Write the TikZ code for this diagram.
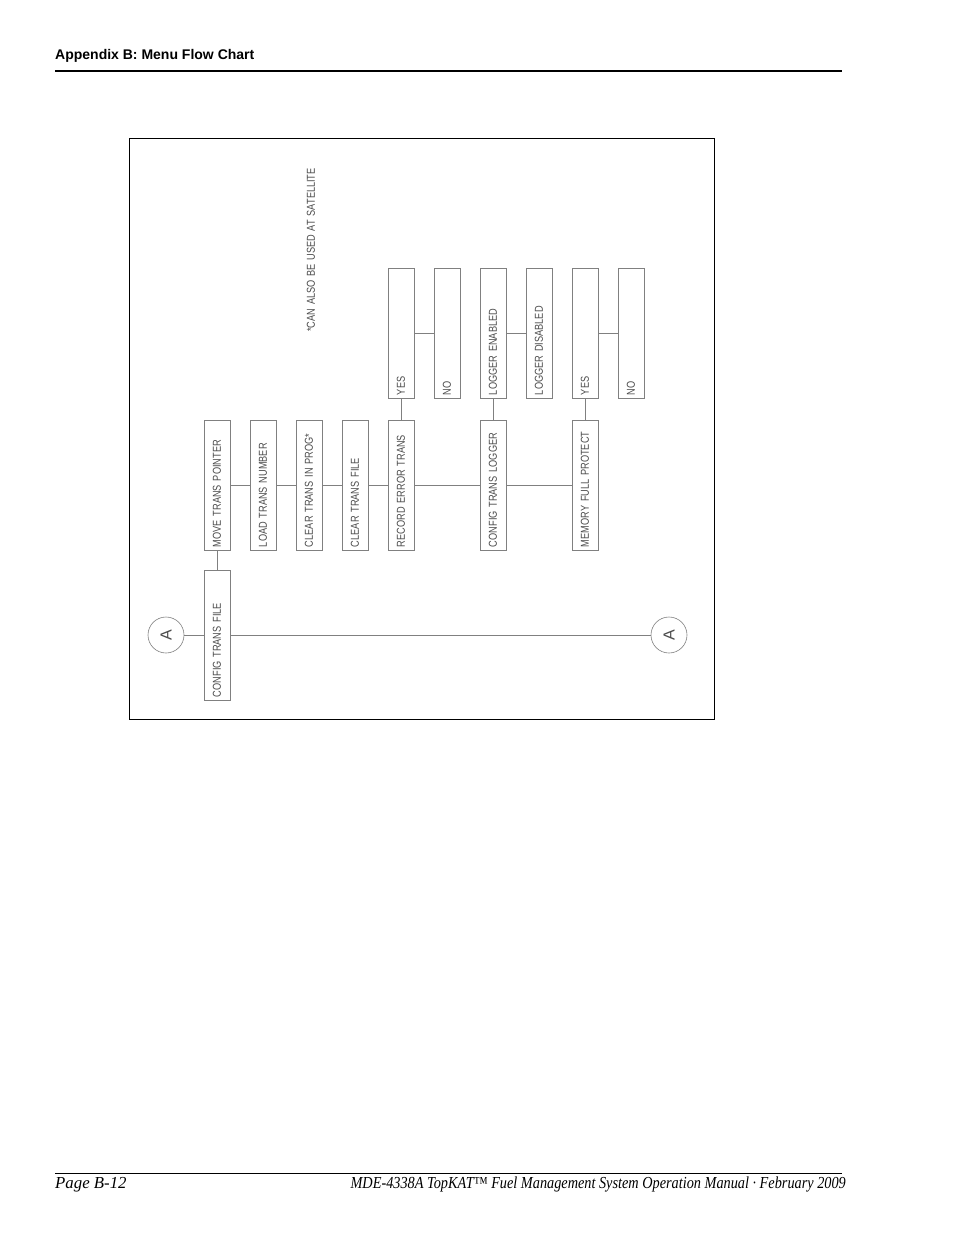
\documentclass[tikz,border=0pt]{standalone}
\usepackage{fontspec}
\setmainfont{Liberation Serif}
\newfontfamily\headfont{Liberation Sans}
\newfontfamily\footfont[FakeStretch=0.85]{Liberation Serif}
\newfontfamily\cadfont[FakeStretch=0.8,WordSpace=1.5]{Liberation Sans}
\tikzset{
  menubox/.style={draw=black!50, line width=.6pt, rotate=90, minimum height=26pt,
    text width=124pt, inner xsep=3pt, inner ysep=0pt, align=left, text=black!70,
    font=\cadfont\fontsize{11.5}{12}\selectfont},
  offpage/.style={draw=black!50, line width=.6pt, circle, minimum size=36pt,
    inner sep=0pt, rotate=90, text=black!70, font=\headfont\fontsize{16}{16}\selectfont},
  link/.style={draw=black!50, line width=.6pt},
}
\begin{document}
\begin{tikzpicture}[x=1pt,y=-1pt]
  \path[use as bounding box, fill=white] (0,0) rectangle (954,1235);
  \node[anchor=base west, inner sep=0pt, font=\headfont\bfseries\fontsize{14}{16}\selectfont]
    (head) at (55,59) {Appendix B: Menu Flow Chart};
  \draw[line width=1.2pt] (55,71) -- (842,71);
  \draw[line width=.8pt] (55,1173) -- (842,1173);
  \node[anchor=base west, inner sep=0pt, font=\itshape\fontsize{16.8}{18}\selectfont]
    (page) at (55,1188) {Page B-12};
  \node[anchor=base east, inner sep=0pt, font=\footfont\itshape\fontsize{16.8}{18}\selectfont]
    (manual) at (846,1188) {MDE-4338A TopKAT™ Fuel Management System Operation Manual · February 2009};
  \draw[line width=.8pt] (129,138) rectangle (714,719);
  \node[rotate=90, inner sep=0pt, text=black!70, font=\cadfont\fontsize{11.5}{12}\selectfont]
    (note) at (311,250) {*CAN ALSO BE USED AT SATELLITE};
  \node[offpage] (cA) at (166,635) {A};
  \node[offpage] (cB) at (669,635) {A};
  \node[menubox] (cfgfile) at (217,635) {CONFIG TRANS FILE};
  \foreach \x/\nm/\txt in {217/move/MOVE TRANS POINTER, 263/load/LOAD TRANS NUMBER,
      309/clrprog/CLEAR TRANS IN PROG*, 355/clrfile/CLEAR TRANS FILE,
      401/recerr/RECORD ERROR TRANS, 493/cfglog/CONFIG TRANS LOGGER,
      585/memfull/MEMORY FULL PROTECT}
    \node[menubox] (\nm) at (\x,485) {\txt};
  \foreach \x/\nm/\txt in {401/yesA/YES, 447/noA/NO, 493/logen/LOGGER ENABLED,
      539/logdis/LOGGER DISABLED, 585/yesB/YES, 631/noB/NO}
    \node[menubox] (\nm) at (\x,333) {\txt};
  \draw[link] (cA) -- (cfgfile.north);
  \draw[link] (cfgfile.south) -- (cB);
  \draw[link] (cfgfile.east) -- (move.west);
  \foreach \a/\b in {move/load, load/clrprog, clrprog/clrfile, clrfile/recerr,
      recerr/cfglog, cfglog/memfull, yesA/noA, logen/logdis, yesB/noB}
    \draw[link] (\a.south) -- (\b.north);
  \foreach \a/\b in {recerr/yesA, cfglog/logen, memfull/yesB}
    \draw[link] (\a.east) -- (\b.west);
\end{tikzpicture}
\end{document}
